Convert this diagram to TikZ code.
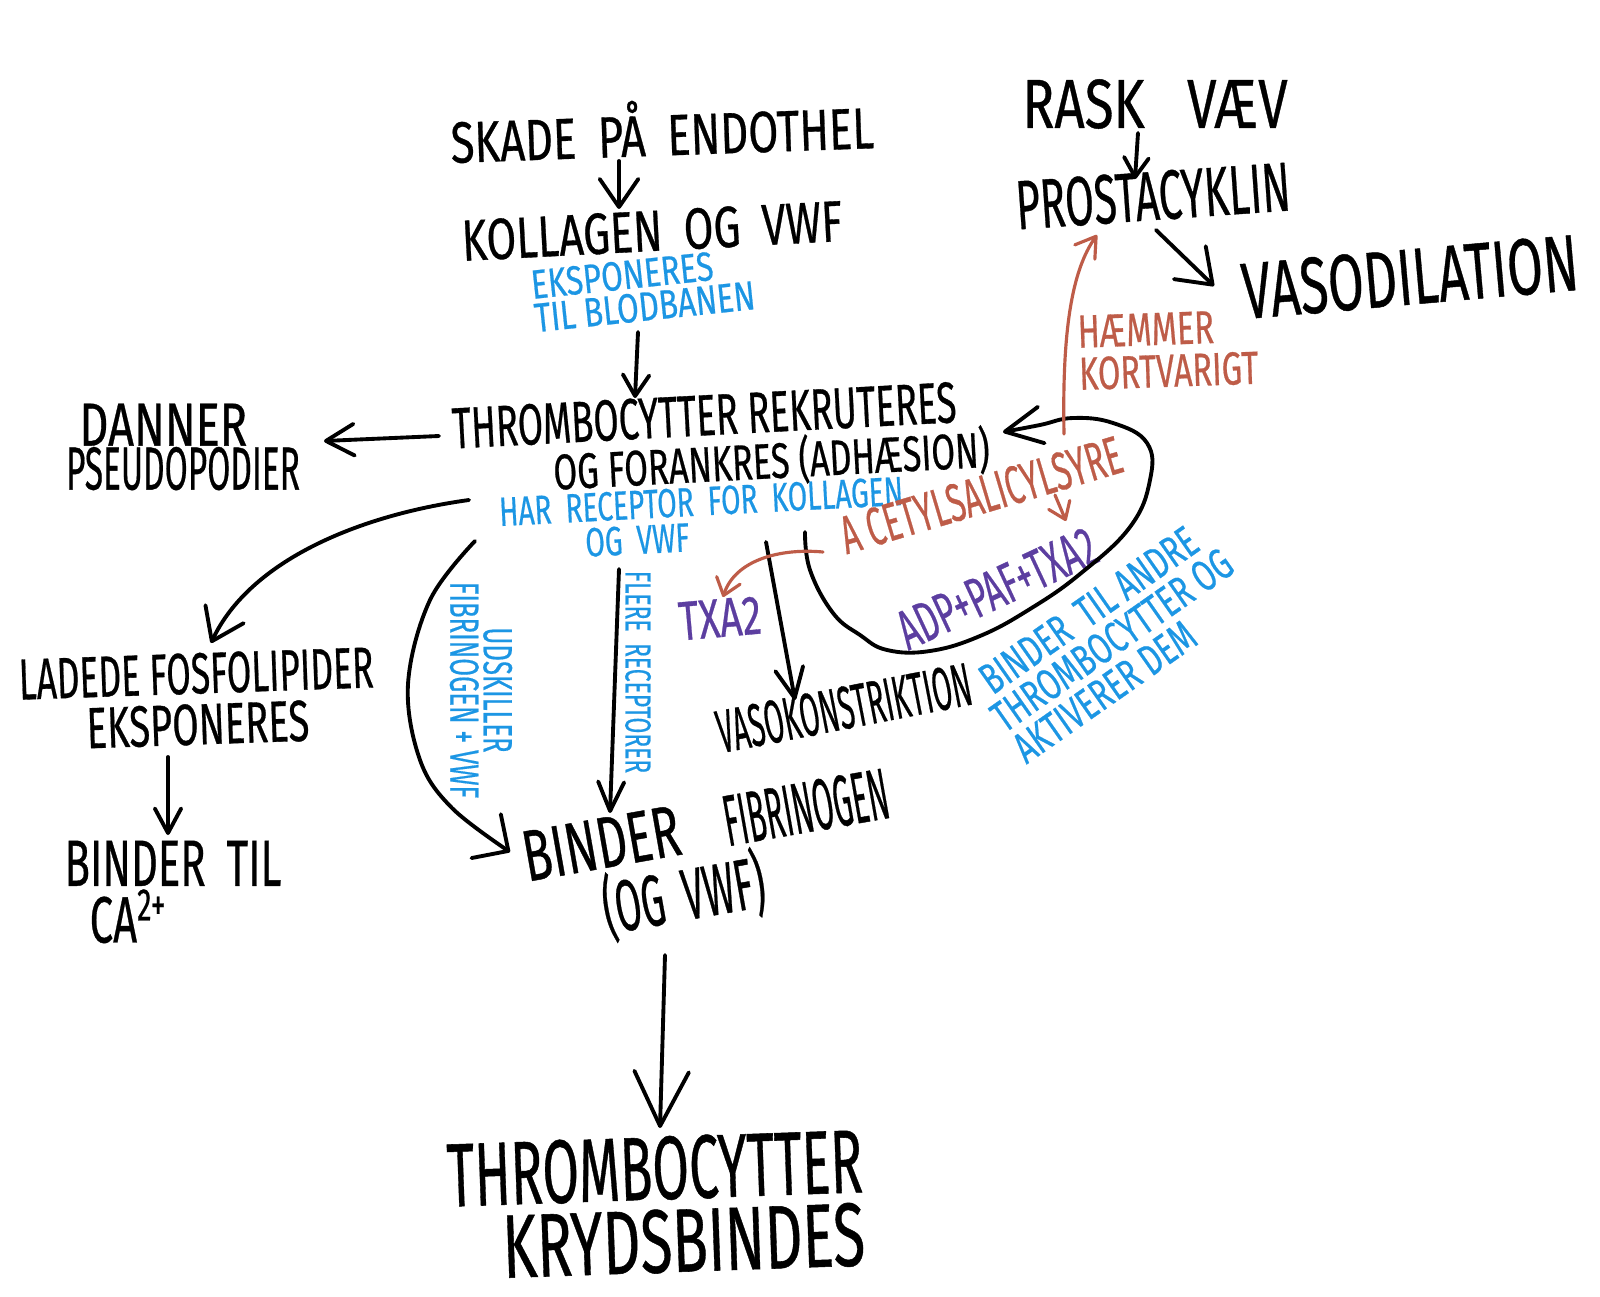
\documentclass[tikz,border=0pt]{standalone}
\usepackage{fontspec}
\setmainfont{Fira Sans}[FakeBold=0.6]
\usetikzlibrary{arrows.meta}
\definecolor{inkblue}{RGB}{28,150,228}
\definecolor{inkred}{RGB}{190,92,72}
\definecolor{inkpurple}{RGB}{92,62,160}
\newcommand\fz[2]{\fontsize{#1}{#2}\selectfont}
\newcommand\wide[2]{\scalebox{#1}[1]{#2}}
\tikzset{
 lbl/.style={inner sep=0pt, outer sep=0pt},
 tk/.style={lbl, text=black},
 tb/.style={lbl, text=inkblue},
 tr/.style={lbl, text=inkred},
 tp/.style={lbl, text=inkpurple},
 con/.style={line width=1.1pt, line cap=round, line join=round, draw=black},
 rcon/.style={line width=0.9pt, line cap=round, line join=round, draw=inkred},
 hd/.style 2 args={-{Straight Barb[length=#1, width=#2, round]}},
}
\begin{document}
\begin{tikzpicture}[x=0.01cm, y=-0.01cm]
\fill[white] (0,0) rectangle (1600,1297);
\useasboundingbox (0,0) rectangle (1600,1297);

% ---------- nodes ----------
\node[tk, font=\fz{16.5}{18}, rotate=2, xscale=.75] (skade) at (662,128) {SKADE\hspace{.5em}PÅ\hspace{.5em}ENDOTHEL};
\node[tk, font=\fz{16.5}{18}, rotate=3, xscale=.74] (kollagen) at (652,231) {KOLLAGEN\hspace{.5em}OG\hspace{.5em}VWF};
\node[tb, font=\fz{11.6}{9.5}, rotate=6, xscale=.77, align=left] (ekspo) at (643,290) {EKSPONERES\\TIL BLODBANEN};
\node[tk, font=\fz{16.5}{11.2}, rotate=3, xscale=.63, align=left] (thromb) at (721,441) {THROMBOCYTTER REKRUTERES\\\hspace*{2.7em}\scalebox{.94}[.86]{OG FORANKRES (ADHÆSION)}};
\node[tb, font=\fz{11.6}{10}, rotate=3, xscale=.69, align=left] (harrec) at (702,519) {HAR\hspace{.5em}RECEPTOR\hspace{.5em}FOR\hspace{.5em}KOLLAGEN\\\hspace*{3em}OG\hspace{.5em}VWF};
\node[tk, font=\fz{17.3}{12.5}, xscale=.55, align=left] (danner) at (183,447) {\hspace*{.4em}\wide{1.35}{DANNER}\\PSEUDOPODIER};
\node[tk, font=\fz{16.5}{14.5}, rotate=2, xscale=.61, align=center] (ladede) at (197,699) {LADEDE FOSFOLIPIDER\\\wide{1.08}{EKSPONERES}};
\node[tk, font=\fz{18.6}{14}, xscale=.64, align=left] (bindertil) at (173,892) {BINDER\hspace{.5em}TIL\\\hspace*{.6em}CA\textsuperscript{2+}};
\node[tb, font=\fz{11.6}{9.5}, rotate=-90, xscale=.63, align=center] (udskiller) at (481,690) {UDSKILLER\\FIBRINOGEN + VWF};
\node[tb, font=\fz{10.3}{10}, rotate=-90, xscale=.63] (flere) at (638,672) {FLERE\hspace{.5em}RECEPTORER};
\node[tk, font=\fz{20.6}{13}, rotate=10, xscale=.52, align=left] (binderfib) at (712,862) {\wide{1.25}{BINDER}\hspace{1.2em}\wide{.8}{FIBRINOGEN}\\\hspace*{1.85em}(OG\hspace{.5em}VWF)};
\node[tk, font=\fz{25.6}{20.8}, rotate=2, xscale=.59, align=right] (krydsb) at (656,1205) {THROMBOCYTTER\\\wide{1.1}{KRYDSBINDES}};
\node[tk, font=\fz{17.3}{18}, rotate=11, xscale=.47] (vasok) at (844,708) {VASOKONSTRIKTION};
\node[tp, font=\fz{15.7}{16}, rotate=5, xscale=.70] (txa) at (720,618) {TXA2};
\node[tr, font=\fz{15.3}{16}, rotate=16.6, xscale=.59] (acetyl) at (981,495) {A CETYLSALICYLSYRE};
\node[tp, font=\fz{16}{17}, rotate=25, xscale=.59] (adp) at (997,588) {ADP+PAF+TXA2};
\node[tb, font=\fz{12.4}{10.8}, rotate=35, xscale=.69, align=left] (bindera) at (1112,640) {\hspace*{.4em}BINDER\hspace{.5em}TIL ANDRE\\THROMBOCYTTER OG\\AKTIVERER DEM};
\node[tr, font=\fz{13.2}{12}, rotate=2, xscale=.70, align=left] (haemmer) at (1168,350) {HÆMMER\\KORTVARIGT};
\node[tk, font=\fz{19.8}{20}, xscale=.76] (rask) at (1155,104) {RASK\hspace{.8em}VÆV};
\node[tk, font=\fz{19.8}{20}, rotate=4, xscale=.60] (prosta) at (1153,196) {PROSTACYKLIN};
\node[tk, font=\fz{22.7}{23}, rotate=5, xscale=.65] (vasod) at (1410,277) {VASODILATION};

% ---------- connector ends ----------
\coordinate (c1s) at (619,161);  \coordinate (c1e) at (619,209);
\coordinate (c2s) at (638,332);  \coordinate (c2e) at (635,398);
\coordinate (c3s) at (439,436);  \coordinate (c3e) at (324,441);
\coordinate (c4s) at (469,500);  \coordinate (c4e) at (211,643);
\coordinate (c5s) at (168,757);  \coordinate (c5e) at (168,835);
\coordinate (c6s) at (475,541);  \coordinate (c6e) at (510,852);
\coordinate (c7s) at (619,569);  \coordinate (c7e) at (610,813);
\coordinate (c8s) at (665,955);  \coordinate (c8e) at (660,1128);
\coordinate (c9s) at (766,542);  \coordinate (c9e) at (795,700);
\coordinate (c10s) at (823,552); \coordinate (c10e) at (723,597);
\coordinate (c11s) at (1055,495); \coordinate (c11e) at (1066,521);
\coordinate (c12s) at (1064,434); \coordinate (c12e) at (1097,235);
\coordinate (c13s) at (1138,133); \coordinate (c13e) at (1135,179);
\coordinate (c14s) at (1156,230); \coordinate (c14e) at (1214,286);
\coordinate (lps) at (805,532);  \coordinate (lpe) at (1003,432);

% ---------- black connectors ----------
\draw[con, hd={8pt}{11pt}] (c1s) -- (c1e);
\draw[con, hd={6pt}{7.5pt}] (c2s) -- (c2e);
\draw[con, hd={8pt}{9pt}] (c3s) -- (c3e);
\draw[con, hd={8.5pt}{12pt}] (c4s) .. controls (360,515) and (250,560) .. (c4e);
\draw[con, hd={7pt}{7.5pt}] (c5s) -- (c5e);
\draw[con, hd={7.6pt}{15pt}] plot[smooth, tension=0.6] coordinates {(c6s) (430,600) (408,684) (420,760) (452,808) (c6e)};
\draw[con, hd={8.3pt}{7.4pt}] (c7s) -- (c7e);
\draw[con, hd={15.5pt}{15.5pt}] (c8s) -- (c8e);
\draw[con, hd={8.5pt}{8pt}] (c9s) -- (c9e);
\draw[con, hd={10.5pt}{10.5pt}] plot[smooth, tension=0.7] coordinates {(lps) (810,570) (833,613) (860,635) (887,650) (930,651) (980,636) (1030,609) (1080,574) (1130,527) (1150,480) (1147,443) (1113,423) (1073,418) (1040,425) (lpe)};
\draw[con, hd={5.5pt}{7pt}] (c13s) -- (c13e);
\draw[con, hd={9pt}{13pt}] (c14s) -- (c14e);

% ---------- red connectors ----------
\draw[rcon, hd={4.5pt}{7pt}] (c10s) .. controls (780,548) and (735,560) .. (c10e);
\draw[rcon, hd={4.5pt}{6.5pt}] (c11s) -- (c11e);
\draw[rcon, hd={5.5pt}{7pt}] (c12s) .. controls (1062,330) and (1072,270) .. (c12e);
\end{tikzpicture}
\end{document}
